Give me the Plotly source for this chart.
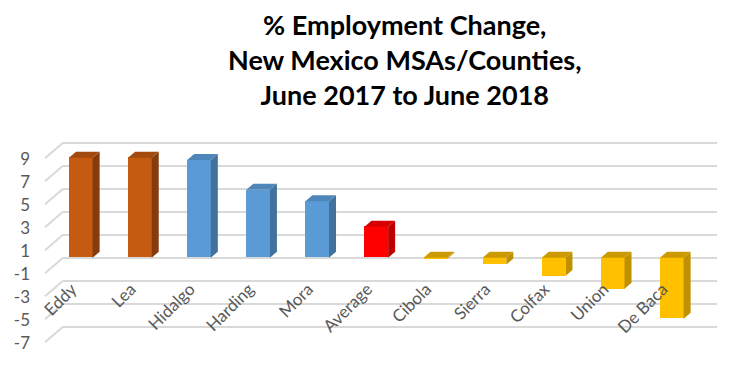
import plotly.graph_objects as go

categories = ["Eddy", "Lea", "Hidalgo", "Harding", "Mora", "Average",
              "Cibola", "Sierra", "Colfax", "Union", "De Baca"]
values = [8.7, 8.7, 8.5, 5.9, 4.9, 2.7, -0.1, -0.6, -1.6, -2.7, -5.3]
groups = ["top", "top", "mid", "mid", "mid", "avg",
          "low", "low", "low", "low", "low"]
y_ticks = [9, 7, 5, 3, 1, -1, -3, -5, -7]

front_col = {"top": "#C55A11", "mid": "#5B9BD5", "avg": "#FF0000", "low": "#FFC000"}
side_col = {"top": "#843C0C", "mid": "#41719C", "avg": "#C00000", "low": "#BF9000"}
cap_col = {"top": "#A34A0E", "mid": "#4F86BA", "avg": "#D80000", "low": "#CC9A00"}

W, H = 730, 365
OFF = 8  # page offset of the plot div
# pixel geometry of the pseudo-3D frame (screen pixels)
px_per_cat = 59.1
px_per_unit = 11.5
x0_px = 80.8 - OFF     # centre of first category (bar plane)
wall_l, wall_r = 63 - OFF, 717 - OFF
wall_dx = 18
y_lo, y_hi = -8.3, 10.3
zero_px = 257.7 - OFF

x_range = [(wall_l - x0_px) / px_per_cat, (wall_r - x0_px) / px_per_cat]
top_px = zero_px - px_per_unit * y_hi
bot_px = zero_px - px_per_unit * y_lo
y_domain = [(H - bot_px) / H, (H - top_px) / H]

bar_w = 0.40
ddx = 7.0 / px_per_cat
ddy = 6.0 / px_per_unit

xs = list(range(len(categories)))
fig = go.Figure()
fig.add_trace(go.Bar(
    x=xs, y=values, width=bar_w,
    marker=dict(color=[front_col[g] for g in groups], line=dict(width=0)),
    hoverinfo="x+y", showlegend=False))

for xi, v, g in zip(xs, values, groups):
    xl, xr = xi - bar_w / 2, xi + bar_w / 2
    top, bot = max(v, 0), min(v, 0)
    # side face
    fig.add_trace(go.Scatter(
        x=[xr, xr, xr + ddx, xr + ddx, xr],
        y=[bot, top, top + ddy, bot + ddy, bot],
        mode="lines", fill="toself", fillcolor=side_col[g],
        line=dict(width=0, color=side_col[g]), hoverinfo="skip", showlegend=False))
    # top face
    fig.add_trace(go.Scatter(
        x=[xl, xr, xr + ddx, xl + ddx, xl],
        y=[top, top, top + ddy, top + ddy, top],
        mode="lines", fill="toself", fillcolor=cap_col[g],
        line=dict(width=0, color=cap_col[g]), hoverinfo="skip", showlegend=False))

# dummy trace for the label axis
fig.add_trace(go.Scatter(x=[0], y=[0], yaxis="y2", mode="markers",
                         marker=dict(opacity=0), hoverinfo="skip", showlegend=False))

grid_vals = [v + 1 for v in y_ticks]
wall_dy = 15.5 / px_per_unit
shapes = []
for gv in grid_vals:
    shapes.append(dict(type="line", xref="paper", yref="y",
                       x0=wall_l / W, x1=(wall_l - wall_dx) / W, y0=gv, y1=gv - wall_dy,
                       line=dict(color="#D9D9D9", width=2), layer="below"))

fig.update_layout(
    width=W, height=H,
    autosize=False,
    margin=dict(l=0, r=0, t=0, b=0, pad=0, autoexpand=False),
    paper_bgcolor="white", plot_bgcolor="white",
    annotations=[dict(
        text="<b>% Employment Change,<br>New Mexico MSAs/Counties,<br>June 2017 to June 2018</b>",
        xref="paper", yref="paper", x=(405 - OFF) / W, y=1 - (60 - OFF) / H,
        xanchor="center", yanchor="middle", showarrow=False, align="center",
        font=dict(family="Lato", size=27, color="#000000"))],
    xaxis=dict(domain=[wall_l / W, wall_r / W], range=x_range,
               tickvals=xs, ticktext=categories, tickangle=-45,
               anchor="free", position=(H - (275 - OFF)) / H, automargin=False,
               ticklabelshift=-9,
               showgrid=False, zeroline=False, showline=False, ticks="",
               tickfont=dict(family="Lato", size=17, color="#595959"), fixedrange=True),
    yaxis=dict(domain=y_domain, range=[y_lo, y_hi], tickvals=grid_vals,
               showticklabels=False, showgrid=True, gridcolor="#D9D9D9", gridwidth=2,
               zeroline=False, showline=False, ticks="", automargin=False, fixedrange=True),
    yaxis2=dict(overlaying="y", anchor="free", position=(30 - OFF) / W, side="left",
                range=[y_lo + 0.45, y_hi + 0.45], tickvals=y_ticks,
                ticktext=[str(t) for t in y_ticks], automargin=False,
                showgrid=False, zeroline=False, showline=False, ticks="",
                tickfont=dict(family="Lato", size=17, color="#595959"), fixedrange=True),
    shapes=shapes,
    bargap=0,
)

fig.write_html("out.html")
